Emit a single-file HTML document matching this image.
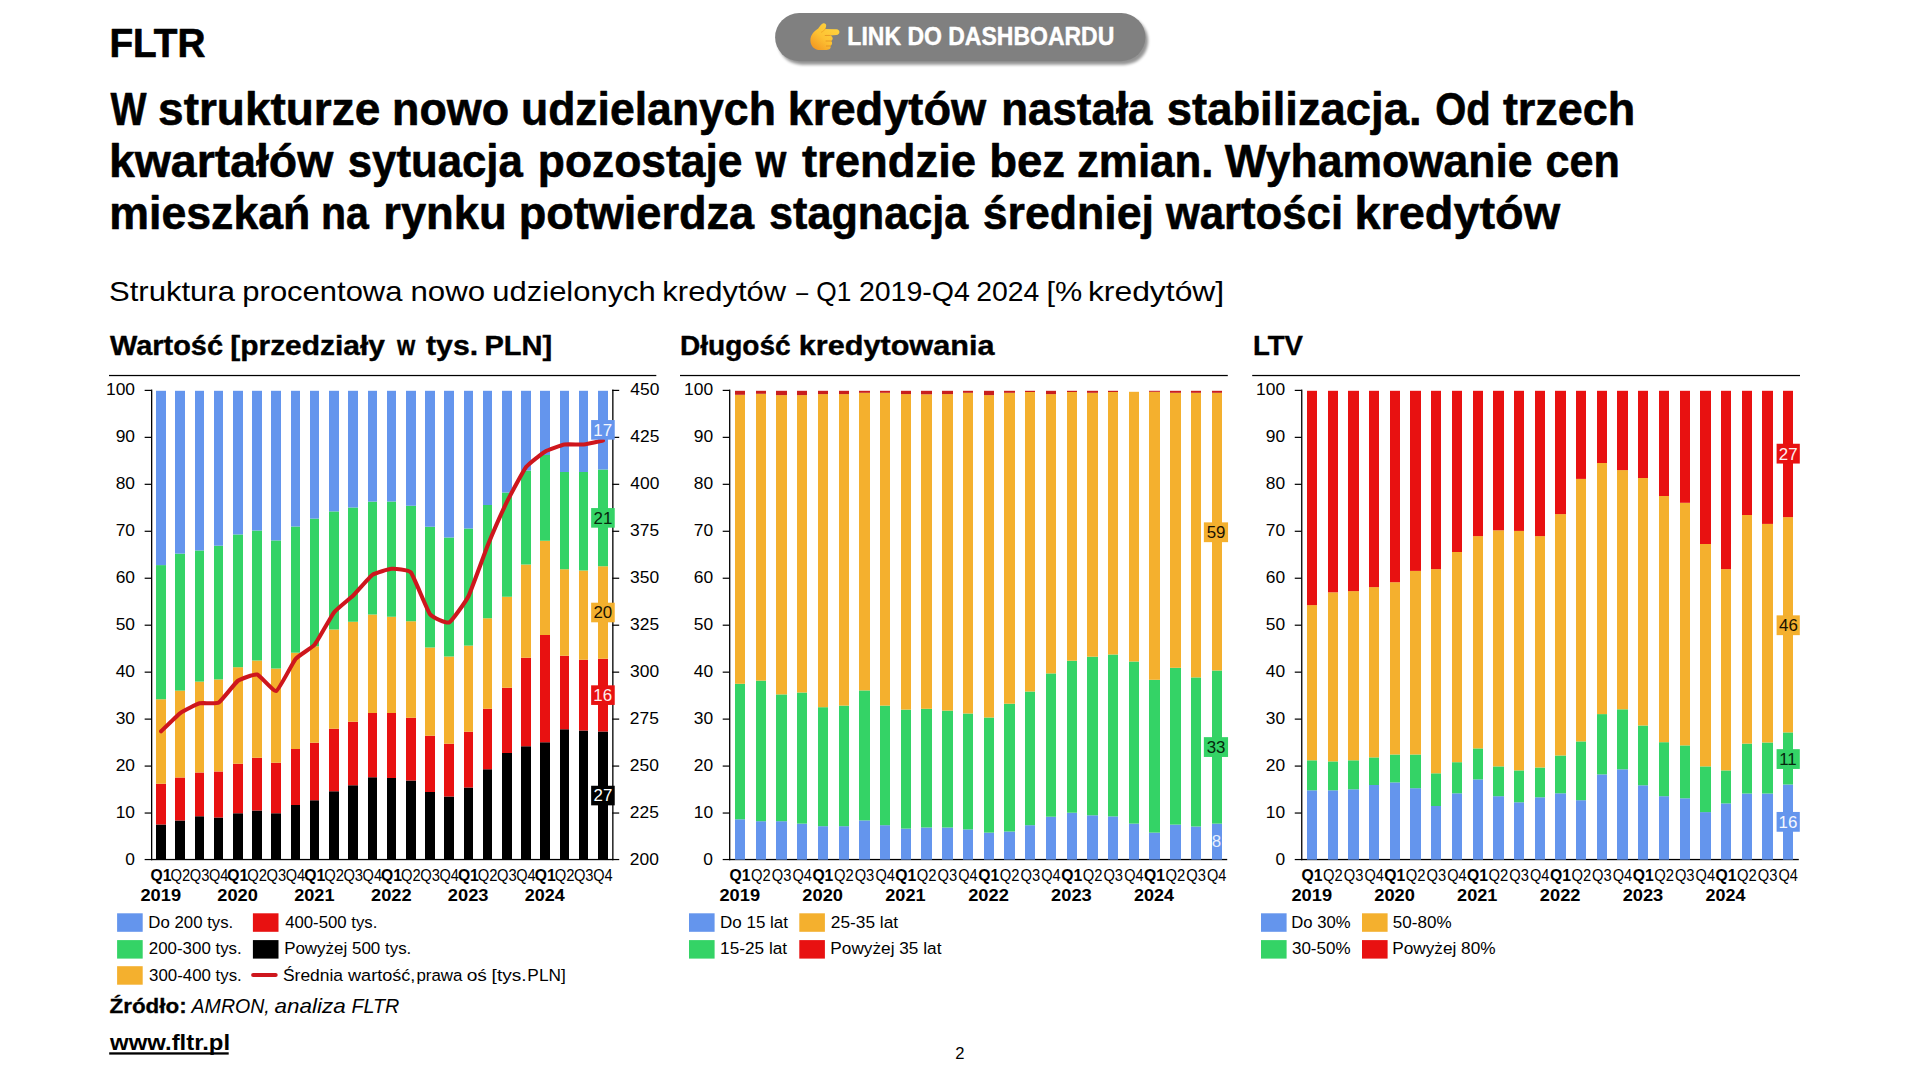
<!DOCTYPE html>
<html lang="pl"><head><meta charset="utf-8"><title>FLTR – struktura nowo udzielanych kredytów</title>
<style>html,body{margin:0;padding:0;background:#fff;}body{width:1920px;height:1080px;overflow:hidden;}svg{display:block;}text{font-family:"Liberation Sans",sans-serif;}</style>
</head><body>
<svg width="1920" height="1080" viewBox="0 0 1920 1080" shape-rendering="auto">
<rect width="1920" height="1080" fill="#fff"/>
<text x="109.43" y="56.70" font-size="40.6" font-weight="bold" fill="#000" stroke="#000" stroke-width="0.7" stroke-linejoin="round" textLength="96.02" lengthAdjust="spacingAndGlyphs">FLTR</text>
<text y="125.00" font-size="46.3" font-weight="bold" fill="#000" stroke="#000" stroke-width="0.6" stroke-linejoin="round"><tspan x="110.60" textLength="36.06" lengthAdjust="spacingAndGlyphs">W</tspan> <tspan x="158.09" textLength="222.19" lengthAdjust="spacingAndGlyphs">strukturze</tspan> <tspan x="392.09" textLength="117.08" lengthAdjust="spacingAndGlyphs">nowo</tspan> <tspan x="520.93" textLength="254.93" lengthAdjust="spacingAndGlyphs">udzielanych</tspan> <tspan x="787.73" textLength="198.46" lengthAdjust="spacingAndGlyphs">kredytów</tspan> <tspan x="1001.21" textLength="151.30" lengthAdjust="spacingAndGlyphs">nastała</tspan> <tspan x="1166.81" textLength="254.75" lengthAdjust="spacingAndGlyphs">stabilizacja.</tspan> <tspan x="1435.28" textLength="55.44" lengthAdjust="spacingAndGlyphs">Od</tspan> <tspan x="1502.91" textLength="132.37" lengthAdjust="spacingAndGlyphs">trzech</tspan></text>
<text y="177.00" font-size="46.3" font-weight="bold" fill="#000" stroke="#000" stroke-width="0.6" stroke-linejoin="round"><tspan x="108.94" textLength="224.36" lengthAdjust="spacingAndGlyphs">kwartałów</tspan> <tspan x="347.77" textLength="175.04" lengthAdjust="spacingAndGlyphs">sytuacja</tspan> <tspan x="537.82" textLength="204.71" lengthAdjust="spacingAndGlyphs">pozostaje</tspan> <tspan x="755.41" textLength="30.80" lengthAdjust="spacingAndGlyphs">w</tspan> <tspan x="802.01" textLength="173.99" lengthAdjust="spacingAndGlyphs">trendzie</tspan> <tspan x="989.25" textLength="75.85" lengthAdjust="spacingAndGlyphs">bez</tspan> <tspan x="1076.92" textLength="136.59" lengthAdjust="spacingAndGlyphs">zmian.</tspan> <tspan x="1224.70" textLength="307.81" lengthAdjust="spacingAndGlyphs">Wyhamowanie</tspan> <tspan x="1545.57" textLength="74.34" lengthAdjust="spacingAndGlyphs">cen</tspan></text>
<text y="229.40" font-size="46.3" font-weight="bold" fill="#000" stroke="#000" stroke-width="0.6" stroke-linejoin="round"><tspan x="109.31" textLength="201.05" lengthAdjust="spacingAndGlyphs">mieszkań</tspan> <tspan x="321.04" textLength="47.86" lengthAdjust="spacingAndGlyphs">na</tspan> <tspan x="383.26" textLength="123.45" lengthAdjust="spacingAndGlyphs">rynku</tspan> <tspan x="518.63" textLength="235.58" lengthAdjust="spacingAndGlyphs">potwierdza</tspan> <tspan x="769.09" textLength="199.10" lengthAdjust="spacingAndGlyphs">stagnacja</tspan> <tspan x="982.73" textLength="171.29" lengthAdjust="spacingAndGlyphs">średniej</tspan> <tspan x="1165.72" textLength="177.32" lengthAdjust="spacingAndGlyphs">wartości</tspan> <tspan x="1354.51" textLength="205.67" lengthAdjust="spacingAndGlyphs">kredytów</tspan></text>
<text y="301.00" font-size="28.5" fill="#000"><tspan x="108.94" textLength="126.06" lengthAdjust="spacingAndGlyphs">Struktura</tspan> <tspan x="242.36" textLength="160.10" lengthAdjust="spacingAndGlyphs">procentowa</tspan> <tspan x="410.44" textLength="74.68" lengthAdjust="spacingAndGlyphs">nowo</tspan> <tspan x="492.36" textLength="163.43" lengthAdjust="spacingAndGlyphs">udzielonych</tspan> <tspan x="662.36" textLength="123.79" lengthAdjust="spacingAndGlyphs">kredytów</tspan> <tspan x="796.25" textLength="11.83" lengthAdjust="spacingAndGlyphs">–</tspan> <tspan x="816.23" textLength="35.05" lengthAdjust="spacingAndGlyphs">Q1</tspan> <tspan x="858.92" textLength="110.98" lengthAdjust="spacingAndGlyphs">2019-Q4</tspan> <tspan x="976.13" textLength="63.17" lengthAdjust="spacingAndGlyphs">2024</tspan> <tspan x="1046.60" textLength="35.73" lengthAdjust="spacingAndGlyphs">[%</tspan> <tspan x="1087.90" textLength="136.32" lengthAdjust="spacingAndGlyphs">kredytów]</tspan></text>
<defs><filter id="sh" x="-10%" y="-30%" width="120%" height="170%"><feGaussianBlur stdDeviation="1.6"/></filter></defs>
<rect x="777.8" y="16.6" width="370.3" height="48.1" rx="24" fill="#000" opacity="0.42" filter="url(#sh)"/>
<rect x="775.1" y="13.1" width="370.3" height="48.1" rx="24.05" fill="#808080"/>
<text x="847.36" y="45.00" font-size="25.7" font-weight="bold" fill="#fff" stroke="#fff" stroke-width="0.45" stroke-linejoin="round" textLength="266.97" lengthAdjust="spacingAndGlyphs">LINK DO DASHBOARDU</text>
<defs><linearGradient id="hg" x1="0.9" y1="0.1" x2="0.15" y2="0.95"><stop offset="0" stop-color="#FFD43F"/><stop offset="0.55" stop-color="#FDC233"/><stop offset="1" stop-color="#F39A23"/></linearGradient></defs>
<g transform="translate(810,23)">
<path d="M8.2 5.6 C9.6 3.6 11.2 1.4 12.8 0.6 C14.6 -0.2 16.4 0.9 16.2 2.8 C16.1 3.9 15.6 5 15.2 5.9 L26.6 6.3 C28.4 6.4 29.4 7.6 29.4 9.1 C29.4 10.8 28.2 12 26.4 12.1 L20.2 12.4 C21.8 13 22.8 14.2 22.7 15.6 C22.6 16.8 22 17.6 21.2 18 C22 18.8 22.2 19.8 22 20.8 C21.8 21.9 21.2 22.6 20.4 23 C20.8 23.8 20.7 24.8 20.1 25.6 C19.3 26.7 18 27 16.4 27 L10.4 27 C4.6 27 0.4 23 0.4 17.4 C0.4 12.4 3.4 8.6 8.2 5.6 Z" fill="url(#hg)"/>
<path d="M15.2 12.5 L20.2 12.4 M16 18 L21.2 18 M16.4 23 L20.4 23" fill="none" stroke="#E08A1E" stroke-width="0.9" stroke-linecap="round" opacity="0.8"/>
<path d="M15.2 5.9 C14.4 7.4 13 8.6 11.4 9.2" fill="none" stroke="#E9971F" stroke-width="0.9" stroke-linecap="round" opacity="0.7"/>
</g>
<text y="355.00" font-size="28.4" font-weight="bold" fill="#000" stroke="#000" stroke-width="0.4" stroke-linejoin="round"><tspan x="110.00" textLength="113.05" lengthAdjust="spacingAndGlyphs">Wartość</tspan> <tspan x="230.24" textLength="154.71" lengthAdjust="spacingAndGlyphs">[przedziały</tspan> <tspan x="397.05" textLength="18.22" lengthAdjust="spacingAndGlyphs">w</tspan> <tspan x="426.05" textLength="52.06" lengthAdjust="spacingAndGlyphs">tys.</tspan> <tspan x="484.53" textLength="67.68" lengthAdjust="spacingAndGlyphs">PLN]</tspan></text>
<rect x="109" y="374.9" width="547.3" height="1.25" fill="#000"/>
<rect x="151.00" y="389.60" width="1.3" height="470.60" fill="#000"/>
<rect x="144.65" y="858.95" width="7" height="1.2" fill="#000"/>
<text x="125.34" y="865.00" font-size="16.9" fill="#000" textLength="9.68" lengthAdjust="spacingAndGlyphs">0</text>
<rect x="144.65" y="812.44" width="7" height="1.2" fill="#000"/>
<text x="115.68" y="818.00" font-size="16.9" fill="#000" textLength="19.36" lengthAdjust="spacingAndGlyphs">10</text>
<rect x="144.65" y="765.48" width="7" height="1.2" fill="#000"/>
<text x="115.68" y="771.00" font-size="16.9" fill="#000" textLength="19.36" lengthAdjust="spacingAndGlyphs">20</text>
<rect x="144.65" y="718.52" width="7" height="1.2" fill="#000"/>
<text x="115.68" y="724.00" font-size="16.9" fill="#000" textLength="19.36" lengthAdjust="spacingAndGlyphs">30</text>
<rect x="144.65" y="671.56" width="7" height="1.2" fill="#000"/>
<text x="115.68" y="677.00" font-size="16.9" fill="#000" textLength="19.36" lengthAdjust="spacingAndGlyphs">40</text>
<rect x="144.65" y="624.60" width="7" height="1.2" fill="#000"/>
<text x="115.68" y="630.00" font-size="16.9" fill="#000" textLength="19.36" lengthAdjust="spacingAndGlyphs">50</text>
<rect x="144.65" y="577.64" width="7" height="1.2" fill="#000"/>
<text x="115.68" y="583.00" font-size="16.9" fill="#000" textLength="19.36" lengthAdjust="spacingAndGlyphs">60</text>
<rect x="144.65" y="530.68" width="7" height="1.2" fill="#000"/>
<text x="115.68" y="536.00" font-size="16.9" fill="#000" textLength="19.36" lengthAdjust="spacingAndGlyphs">70</text>
<rect x="144.65" y="483.72" width="7" height="1.2" fill="#000"/>
<text x="115.68" y="489.00" font-size="16.9" fill="#000" textLength="19.36" lengthAdjust="spacingAndGlyphs">80</text>
<rect x="144.65" y="436.76" width="7" height="1.2" fill="#000"/>
<text x="115.68" y="442.00" font-size="16.9" fill="#000" textLength="19.36" lengthAdjust="spacingAndGlyphs">90</text>
<rect x="144.65" y="389.80" width="7" height="1.2" fill="#000"/>
<text x="106.03" y="395.00" font-size="16.9" fill="#000" textLength="29.04" lengthAdjust="spacingAndGlyphs">100</text>
<rect x="151.00" y="858.90" width="462.30" height="1.3" fill="#000"/>
<rect x="612.2" y="389.60" width="1.3" height="470.60" fill="#000"/>
<rect x="612.2" y="858.95" width="7" height="1.2" fill="#000"/>
<text x="629.80" y="865.00" font-size="16.9" fill="#000" textLength="29.04" lengthAdjust="spacingAndGlyphs">200</text>
<rect x="612.2" y="812.44" width="7" height="1.2" fill="#000"/>
<text x="629.80" y="818.00" font-size="16.9" fill="#000" textLength="29.04" lengthAdjust="spacingAndGlyphs">225</text>
<rect x="612.2" y="765.48" width="7" height="1.2" fill="#000"/>
<text x="629.80" y="771.00" font-size="16.9" fill="#000" textLength="29.04" lengthAdjust="spacingAndGlyphs">250</text>
<rect x="612.2" y="718.52" width="7" height="1.2" fill="#000"/>
<text x="629.80" y="724.00" font-size="16.9" fill="#000" textLength="29.04" lengthAdjust="spacingAndGlyphs">275</text>
<rect x="612.2" y="671.56" width="7" height="1.2" fill="#000"/>
<text x="630.06" y="677.00" font-size="16.9" fill="#000" textLength="29.04" lengthAdjust="spacingAndGlyphs">300</text>
<rect x="612.2" y="624.60" width="7" height="1.2" fill="#000"/>
<text x="630.06" y="630.00" font-size="16.9" fill="#000" textLength="29.04" lengthAdjust="spacingAndGlyphs">325</text>
<rect x="612.2" y="577.64" width="7" height="1.2" fill="#000"/>
<text x="630.06" y="583.00" font-size="16.9" fill="#000" textLength="29.04" lengthAdjust="spacingAndGlyphs">350</text>
<rect x="612.2" y="530.68" width="7" height="1.2" fill="#000"/>
<text x="630.06" y="536.00" font-size="16.9" fill="#000" textLength="29.04" lengthAdjust="spacingAndGlyphs">375</text>
<rect x="612.2" y="483.72" width="7" height="1.2" fill="#000"/>
<text x="630.31" y="489.00" font-size="16.9" fill="#000" textLength="29.04" lengthAdjust="spacingAndGlyphs">400</text>
<rect x="612.2" y="436.76" width="7" height="1.2" fill="#000"/>
<text x="630.31" y="442.00" font-size="16.9" fill="#000" textLength="29.04" lengthAdjust="spacingAndGlyphs">425</text>
<rect x="612.2" y="389.80" width="7" height="1.2" fill="#000"/>
<text x="630.31" y="395.00" font-size="16.9" fill="#000" textLength="29.04" lengthAdjust="spacingAndGlyphs">450</text>
<rect x="156" y="824.50" width="10" height="35.10" fill="#000000"/>
<rect x="156" y="783.75" width="10" height="40.75" fill="#E81111"/>
<rect x="156" y="699.25" width="10" height="84.50" fill="#F4B02E"/>
<rect x="156" y="565.10" width="10" height="134.15" fill="#34D366"/>
<rect x="156" y="390.80" width="10" height="174.30" fill="#6495ED"/>
<rect x="175" y="820.50" width="10" height="39.10" fill="#000000"/>
<rect x="175" y="777.50" width="10" height="43.00" fill="#E81111"/>
<rect x="175" y="690.60" width="10" height="86.90" fill="#F4B02E"/>
<rect x="175" y="553.60" width="10" height="137.00" fill="#34D366"/>
<rect x="175" y="390.80" width="10" height="162.80" fill="#6495ED"/>
<rect x="195" y="816.25" width="9" height="43.35" fill="#000000"/>
<rect x="195" y="772.50" width="9" height="43.75" fill="#E81111"/>
<rect x="195" y="681.60" width="9" height="90.90" fill="#F4B02E"/>
<rect x="195" y="550.45" width="9" height="131.15" fill="#34D366"/>
<rect x="195" y="390.80" width="9" height="159.65" fill="#6495ED"/>
<rect x="214" y="817.50" width="9" height="42.10" fill="#000000"/>
<rect x="214" y="771.50" width="9" height="46.00" fill="#E81111"/>
<rect x="214" y="679.40" width="9" height="92.10" fill="#F4B02E"/>
<rect x="214" y="545.70" width="9" height="133.70" fill="#34D366"/>
<rect x="214" y="390.80" width="9" height="154.90" fill="#6495ED"/>
<rect x="233" y="813.25" width="10" height="46.35" fill="#000000"/>
<rect x="233" y="763.75" width="10" height="49.50" fill="#E81111"/>
<rect x="233" y="667.20" width="10" height="96.55" fill="#F4B02E"/>
<rect x="233" y="534.45" width="10" height="132.75" fill="#34D366"/>
<rect x="233" y="390.80" width="10" height="143.65" fill="#6495ED"/>
<rect x="252" y="810.50" width="10" height="49.10" fill="#000000"/>
<rect x="252" y="757.75" width="10" height="52.75" fill="#E81111"/>
<rect x="252" y="660.50" width="10" height="97.25" fill="#F4B02E"/>
<rect x="252" y="530.50" width="10" height="130.00" fill="#34D366"/>
<rect x="252" y="390.80" width="10" height="139.70" fill="#6495ED"/>
<rect x="271" y="813.25" width="10" height="46.35" fill="#000000"/>
<rect x="271" y="762.75" width="10" height="50.50" fill="#E81111"/>
<rect x="271" y="668.50" width="10" height="94.25" fill="#F4B02E"/>
<rect x="271" y="540.40" width="10" height="128.10" fill="#34D366"/>
<rect x="271" y="390.80" width="10" height="149.60" fill="#6495ED"/>
<rect x="291" y="805.00" width="9" height="54.60" fill="#000000"/>
<rect x="291" y="749.00" width="9" height="56.00" fill="#E81111"/>
<rect x="291" y="652.70" width="9" height="96.30" fill="#F4B02E"/>
<rect x="291" y="526.50" width="9" height="126.20" fill="#34D366"/>
<rect x="291" y="390.80" width="9" height="135.70" fill="#6495ED"/>
<rect x="310" y="800.25" width="9" height="59.35" fill="#000000"/>
<rect x="310" y="742.75" width="9" height="57.50" fill="#E81111"/>
<rect x="310" y="646.25" width="9" height="96.50" fill="#F4B02E"/>
<rect x="310" y="518.60" width="9" height="127.65" fill="#34D366"/>
<rect x="310" y="390.80" width="9" height="127.80" fill="#6495ED"/>
<rect x="329" y="791.25" width="10" height="68.35" fill="#000000"/>
<rect x="329" y="728.75" width="10" height="62.50" fill="#E81111"/>
<rect x="329" y="629.50" width="10" height="99.25" fill="#F4B02E"/>
<rect x="329" y="511.40" width="10" height="118.10" fill="#34D366"/>
<rect x="329" y="390.80" width="10" height="120.60" fill="#6495ED"/>
<rect x="348" y="785.25" width="10" height="74.35" fill="#000000"/>
<rect x="348" y="721.75" width="10" height="63.50" fill="#E81111"/>
<rect x="348" y="621.75" width="10" height="100.00" fill="#F4B02E"/>
<rect x="348" y="507.50" width="10" height="114.25" fill="#34D366"/>
<rect x="348" y="390.80" width="10" height="116.70" fill="#6495ED"/>
<rect x="368" y="777.25" width="9" height="82.35" fill="#000000"/>
<rect x="368" y="713.00" width="9" height="64.25" fill="#E81111"/>
<rect x="368" y="614.50" width="9" height="98.50" fill="#F4B02E"/>
<rect x="368" y="501.60" width="9" height="112.90" fill="#34D366"/>
<rect x="368" y="390.80" width="9" height="110.80" fill="#6495ED"/>
<rect x="387" y="778.00" width="9" height="81.60" fill="#000000"/>
<rect x="387" y="713.00" width="9" height="65.00" fill="#E81111"/>
<rect x="387" y="616.75" width="9" height="96.25" fill="#F4B02E"/>
<rect x="387" y="501.50" width="9" height="115.25" fill="#34D366"/>
<rect x="387" y="390.80" width="9" height="110.70" fill="#6495ED"/>
<rect x="406" y="780.50" width="10" height="79.10" fill="#000000"/>
<rect x="406" y="717.75" width="10" height="62.75" fill="#E81111"/>
<rect x="406" y="621.25" width="10" height="96.50" fill="#F4B02E"/>
<rect x="406" y="505.75" width="10" height="115.50" fill="#34D366"/>
<rect x="406" y="390.80" width="10" height="114.95" fill="#6495ED"/>
<rect x="425" y="792.00" width="10" height="67.60" fill="#000000"/>
<rect x="425" y="735.75" width="10" height="56.25" fill="#E81111"/>
<rect x="425" y="647.50" width="10" height="88.25" fill="#F4B02E"/>
<rect x="425" y="526.75" width="10" height="120.75" fill="#34D366"/>
<rect x="425" y="390.80" width="10" height="135.95" fill="#6495ED"/>
<rect x="444" y="796.50" width="10" height="63.10" fill="#000000"/>
<rect x="444" y="743.75" width="10" height="52.75" fill="#E81111"/>
<rect x="444" y="656.50" width="10" height="87.25" fill="#F4B02E"/>
<rect x="444" y="537.50" width="10" height="119.00" fill="#34D366"/>
<rect x="444" y="390.80" width="10" height="146.70" fill="#6495ED"/>
<rect x="464" y="787.50" width="9" height="72.10" fill="#000000"/>
<rect x="464" y="731.75" width="9" height="55.75" fill="#E81111"/>
<rect x="464" y="645.60" width="9" height="86.15" fill="#F4B02E"/>
<rect x="464" y="528.50" width="9" height="117.10" fill="#34D366"/>
<rect x="464" y="390.80" width="9" height="137.70" fill="#6495ED"/>
<rect x="483" y="769.25" width="9" height="90.35" fill="#000000"/>
<rect x="483" y="708.75" width="9" height="60.50" fill="#E81111"/>
<rect x="483" y="618.25" width="9" height="90.50" fill="#F4B02E"/>
<rect x="483" y="505.00" width="9" height="113.25" fill="#34D366"/>
<rect x="483" y="390.80" width="9" height="114.20" fill="#6495ED"/>
<rect x="502" y="753.00" width="10" height="106.60" fill="#000000"/>
<rect x="502" y="687.75" width="10" height="65.25" fill="#E81111"/>
<rect x="502" y="596.75" width="10" height="91.00" fill="#F4B02E"/>
<rect x="502" y="492.50" width="10" height="104.25" fill="#34D366"/>
<rect x="502" y="390.80" width="10" height="101.70" fill="#6495ED"/>
<rect x="521" y="746.25" width="10" height="113.35" fill="#000000"/>
<rect x="521" y="657.75" width="10" height="88.50" fill="#E81111"/>
<rect x="521" y="564.50" width="10" height="93.25" fill="#F4B02E"/>
<rect x="521" y="470.50" width="10" height="94.00" fill="#34D366"/>
<rect x="521" y="390.80" width="10" height="79.70" fill="#6495ED"/>
<rect x="540" y="742.25" width="10" height="117.35" fill="#000000"/>
<rect x="540" y="635.00" width="10" height="107.25" fill="#E81111"/>
<rect x="540" y="540.75" width="10" height="94.25" fill="#F4B02E"/>
<rect x="540" y="455.00" width="10" height="85.75" fill="#34D366"/>
<rect x="540" y="390.80" width="10" height="64.20" fill="#6495ED"/>
<rect x="560" y="729.25" width="9" height="130.35" fill="#000000"/>
<rect x="560" y="655.75" width="9" height="73.50" fill="#E81111"/>
<rect x="560" y="569.25" width="9" height="86.50" fill="#F4B02E"/>
<rect x="560" y="472.00" width="9" height="97.25" fill="#34D366"/>
<rect x="560" y="390.80" width="9" height="81.20" fill="#6495ED"/>
<rect x="579" y="730.50" width="9" height="129.10" fill="#000000"/>
<rect x="579" y="659.75" width="9" height="70.75" fill="#E81111"/>
<rect x="579" y="570.50" width="9" height="89.25" fill="#F4B02E"/>
<rect x="579" y="472.00" width="9" height="98.50" fill="#34D366"/>
<rect x="579" y="390.80" width="9" height="81.20" fill="#6495ED"/>
<rect x="598" y="731.50" width="10" height="128.10" fill="#000000"/>
<rect x="598" y="658.75" width="10" height="72.75" fill="#E81111"/>
<rect x="598" y="566.25" width="10" height="92.50" fill="#F4B02E"/>
<rect x="598" y="469.50" width="10" height="96.75" fill="#34D366"/>
<rect x="598" y="390.80" width="10" height="78.70" fill="#6495ED"/>
<path d="M161.10 731.31 C162.39 730.09 177.75 714.95 180.31 713.08 C182.88 711.22 196.96 704.02 199.53 703.32 C202.09 702.62 216.17 704.07 218.74 702.57 C221.30 701.06 235.38 682.64 237.94 680.78 C240.51 678.91 254.59 673.90 257.15 674.58 C259.72 675.25 273.80 691.96 276.37 690.92 C278.93 689.88 293.01 662.08 295.58 658.99 C298.14 655.89 312.22 647.63 314.78 644.52 C317.35 641.42 331.43 615.67 334.00 612.40 C336.56 609.13 350.64 598.00 353.21 595.50 C355.77 592.99 369.85 576.61 372.42 574.83 C374.98 573.06 389.06 568.99 391.62 568.82 C394.19 568.66 408.27 569.36 410.84 572.39 C413.40 575.42 427.48 610.95 430.05 614.28 C432.61 617.61 446.69 623.56 449.25 622.36 C451.82 621.16 465.90 601.37 468.47 596.25 C471.03 591.13 485.11 551.82 487.68 545.53 C490.24 539.25 504.32 507.19 506.88 501.95 C509.45 496.72 523.53 470.38 526.10 467.01 C528.66 463.65 542.74 452.93 545.31 451.42 C547.87 449.92 561.95 444.94 564.52 444.47 C567.08 444.01 581.16 444.74 583.73 444.47 C586.29 444.21 601.65 440.79 602.93 440.53" fill="none" stroke="#CE161D" stroke-width="4.1" stroke-linecap="round" stroke-linejoin="round"/>
<rect x="591.13" y="420.05" width="23.6" height="19.6" fill="#6495ED"/>
<text x="593.37" y="435.75" font-size="16.9" fill="#f4f7fe" textLength="18.80" lengthAdjust="spacingAndGlyphs">17</text>
<rect x="591.13" y="508.07" width="23.6" height="19.6" fill="#34D366"/>
<text x="593.50" y="523.77" font-size="16.9" fill="#06280e" textLength="18.80" lengthAdjust="spacingAndGlyphs">21</text>
<rect x="591.13" y="602.70" width="23.6" height="19.6" fill="#F4B02E"/>
<text x="593.43" y="618.40" font-size="16.9" fill="#1a1200" textLength="18.80" lengthAdjust="spacingAndGlyphs">20</text>
<rect x="591.13" y="685.33" width="23.6" height="19.6" fill="#E81111"/>
<text x="593.31" y="701.02" font-size="16.9" fill="#fdeeee" textLength="18.80" lengthAdjust="spacingAndGlyphs">16</text>
<rect x="591.13" y="785.75" width="23.6" height="19.6" fill="#000000"/>
<text x="593.56" y="801.45" font-size="16.9" fill="#fff" textLength="18.80" lengthAdjust="spacingAndGlyphs">27</text>
<text x="150.52" y="881.30" font-size="16.9" font-weight="bold" fill="#000" textLength="20.97" lengthAdjust="spacingAndGlyphs">Q1</text>
<text x="140.48" y="900.80" font-size="16.9" font-weight="bold" fill="#000" textLength="40.62" lengthAdjust="spacingAndGlyphs">2019</text>
<text x="170.51" y="881.30" font-size="16.9" fill="#000" textLength="19.76" lengthAdjust="spacingAndGlyphs">Q2</text>
<text x="189.72" y="881.30" font-size="16.9" fill="#000" textLength="19.64" lengthAdjust="spacingAndGlyphs">Q3</text>
<text x="208.94" y="881.30" font-size="16.9" fill="#000" textLength="19.41" lengthAdjust="spacingAndGlyphs">Q4</text>
<text x="227.36" y="881.30" font-size="16.9" font-weight="bold" fill="#000" textLength="20.97" lengthAdjust="spacingAndGlyphs">Q1</text>
<text x="217.32" y="900.80" font-size="16.9" font-weight="bold" fill="#000" textLength="40.62" lengthAdjust="spacingAndGlyphs">2020</text>
<text x="247.35" y="881.30" font-size="16.9" fill="#000" textLength="19.76" lengthAdjust="spacingAndGlyphs">Q2</text>
<text x="266.56" y="881.30" font-size="16.9" fill="#000" textLength="19.64" lengthAdjust="spacingAndGlyphs">Q3</text>
<text x="285.78" y="881.30" font-size="16.9" fill="#000" textLength="19.41" lengthAdjust="spacingAndGlyphs">Q4</text>
<text x="304.20" y="881.30" font-size="16.9" font-weight="bold" fill="#000" textLength="20.97" lengthAdjust="spacingAndGlyphs">Q1</text>
<text x="294.16" y="900.80" font-size="16.9" font-weight="bold" fill="#000" textLength="40.34" lengthAdjust="spacingAndGlyphs">2021</text>
<text x="324.19" y="881.30" font-size="16.9" fill="#000" textLength="19.76" lengthAdjust="spacingAndGlyphs">Q2</text>
<text x="343.40" y="881.30" font-size="16.9" fill="#000" textLength="19.64" lengthAdjust="spacingAndGlyphs">Q3</text>
<text x="362.62" y="881.30" font-size="16.9" fill="#000" textLength="19.41" lengthAdjust="spacingAndGlyphs">Q4</text>
<text x="381.04" y="881.30" font-size="16.9" font-weight="bold" fill="#000" textLength="20.97" lengthAdjust="spacingAndGlyphs">Q1</text>
<text x="371.00" y="900.80" font-size="16.9" font-weight="bold" fill="#000" textLength="40.62" lengthAdjust="spacingAndGlyphs">2022</text>
<text x="401.03" y="881.30" font-size="16.9" fill="#000" textLength="19.76" lengthAdjust="spacingAndGlyphs">Q2</text>
<text x="420.24" y="881.30" font-size="16.9" fill="#000" textLength="19.64" lengthAdjust="spacingAndGlyphs">Q3</text>
<text x="439.46" y="881.30" font-size="16.9" fill="#000" textLength="19.41" lengthAdjust="spacingAndGlyphs">Q4</text>
<text x="457.88" y="881.30" font-size="16.9" font-weight="bold" fill="#000" textLength="20.97" lengthAdjust="spacingAndGlyphs">Q1</text>
<text x="447.84" y="900.80" font-size="16.9" font-weight="bold" fill="#000" textLength="40.62" lengthAdjust="spacingAndGlyphs">2023</text>
<text x="477.87" y="881.30" font-size="16.9" fill="#000" textLength="19.76" lengthAdjust="spacingAndGlyphs">Q2</text>
<text x="497.08" y="881.30" font-size="16.9" fill="#000" textLength="19.64" lengthAdjust="spacingAndGlyphs">Q3</text>
<text x="516.30" y="881.30" font-size="16.9" fill="#000" textLength="19.41" lengthAdjust="spacingAndGlyphs">Q4</text>
<text x="534.72" y="881.30" font-size="16.9" font-weight="bold" fill="#000" textLength="20.97" lengthAdjust="spacingAndGlyphs">Q1</text>
<text x="524.69" y="900.80" font-size="16.9" font-weight="bold" fill="#000" textLength="39.93" lengthAdjust="spacingAndGlyphs">2024</text>
<text x="554.71" y="881.30" font-size="16.9" fill="#000" textLength="19.76" lengthAdjust="spacingAndGlyphs">Q2</text>
<text x="573.92" y="881.30" font-size="16.9" fill="#000" textLength="19.64" lengthAdjust="spacingAndGlyphs">Q3</text>
<text x="593.14" y="881.30" font-size="16.9" fill="#000" textLength="19.41" lengthAdjust="spacingAndGlyphs">Q4</text>
<rect x="117.1" y="913.3" width="25.6" height="18.5" fill="#6495ED"/>
<text x="148.35" y="927.50" font-size="17.1" fill="#000" textLength="84.91" lengthAdjust="spacingAndGlyphs">Do 200 tys.</text>
<rect x="117.1" y="940.1" width="25.6" height="18.5" fill="#34D366"/>
<text x="148.84" y="954.20" font-size="17.1" fill="#000" textLength="92.92" lengthAdjust="spacingAndGlyphs">200-300 tys.</text>
<rect x="117.1" y="966.2" width="25.6" height="18.5" fill="#F4B02E"/>
<text x="149.08" y="980.60" font-size="17.1" fill="#000" textLength="92.67" lengthAdjust="spacingAndGlyphs">300-400 tys.</text>
<rect x="252.9" y="913.3" width="25.6" height="18.5" fill="#E81111"/>
<text x="285.13" y="927.50" font-size="17.1" fill="#000" textLength="92.22" lengthAdjust="spacingAndGlyphs">400-500 tys.</text>
<rect x="252.9" y="940.1" width="25.6" height="18.5" fill="#000000"/>
<text x="284.14" y="954.20" font-size="17.1" fill="#000" textLength="127.21" lengthAdjust="spacingAndGlyphs">Powyżej 500 tys.</text>
<line x1="253.1" y1="975.1" x2="275.7" y2="975.1" stroke="#CE161D" stroke-width="4.0" stroke-linecap="round"/>
<text y="980.60" font-size="17.1" fill="#000"><tspan x="282.99" textLength="60.08" lengthAdjust="spacingAndGlyphs">Średnia</tspan> <tspan x="348.00" textLength="67.38" lengthAdjust="spacingAndGlyphs">wartość,</tspan> <tspan x="416.39" textLength="46.06" lengthAdjust="spacingAndGlyphs">prawa</tspan> <tspan x="466.66" textLength="20.22" lengthAdjust="spacingAndGlyphs">oś</tspan> <tspan x="491.60" textLength="35.05" lengthAdjust="spacingAndGlyphs">[tys.</tspan> <tspan x="527.36" textLength="38.42" lengthAdjust="spacingAndGlyphs">PLN]</tspan></text>
<text y="355.00" font-size="28.4" font-weight="bold" fill="#000" stroke="#000" stroke-width="0.4" stroke-linejoin="round"><tspan x="679.95" textLength="110.72" lengthAdjust="spacingAndGlyphs">Długość</tspan> <tspan x="798.84" textLength="195.58" lengthAdjust="spacingAndGlyphs">kredytowania</tspan></text>
<rect x="680" y="374.9" width="547.8" height="1.25" fill="#000"/>
<rect x="729.05" y="389.60" width="1.3" height="470.60" fill="#000"/>
<rect x="722.70" y="858.95" width="7" height="1.2" fill="#000"/>
<text x="703.39" y="865.00" font-size="16.9" fill="#000" textLength="9.68" lengthAdjust="spacingAndGlyphs">0</text>
<rect x="722.70" y="812.44" width="7" height="1.2" fill="#000"/>
<text x="693.73" y="818.00" font-size="16.9" fill="#000" textLength="19.36" lengthAdjust="spacingAndGlyphs">10</text>
<rect x="722.70" y="765.48" width="7" height="1.2" fill="#000"/>
<text x="693.73" y="771.00" font-size="16.9" fill="#000" textLength="19.36" lengthAdjust="spacingAndGlyphs">20</text>
<rect x="722.70" y="718.52" width="7" height="1.2" fill="#000"/>
<text x="693.73" y="724.00" font-size="16.9" fill="#000" textLength="19.36" lengthAdjust="spacingAndGlyphs">30</text>
<rect x="722.70" y="671.56" width="7" height="1.2" fill="#000"/>
<text x="693.73" y="677.00" font-size="16.9" fill="#000" textLength="19.36" lengthAdjust="spacingAndGlyphs">40</text>
<rect x="722.70" y="624.60" width="7" height="1.2" fill="#000"/>
<text x="693.73" y="630.00" font-size="16.9" fill="#000" textLength="19.36" lengthAdjust="spacingAndGlyphs">50</text>
<rect x="722.70" y="577.64" width="7" height="1.2" fill="#000"/>
<text x="693.73" y="583.00" font-size="16.9" fill="#000" textLength="19.36" lengthAdjust="spacingAndGlyphs">60</text>
<rect x="722.70" y="530.68" width="7" height="1.2" fill="#000"/>
<text x="693.73" y="536.00" font-size="16.9" fill="#000" textLength="19.36" lengthAdjust="spacingAndGlyphs">70</text>
<rect x="722.70" y="483.72" width="7" height="1.2" fill="#000"/>
<text x="693.73" y="489.00" font-size="16.9" fill="#000" textLength="19.36" lengthAdjust="spacingAndGlyphs">80</text>
<rect x="722.70" y="436.76" width="7" height="1.2" fill="#000"/>
<text x="693.73" y="442.00" font-size="16.9" fill="#000" textLength="19.36" lengthAdjust="spacingAndGlyphs">90</text>
<rect x="722.70" y="389.80" width="7" height="1.2" fill="#000"/>
<text x="684.08" y="395.00" font-size="16.9" fill="#000" textLength="29.04" lengthAdjust="spacingAndGlyphs">100</text>
<rect x="729.05" y="858.90" width="498.15" height="1.3" fill="#000"/>
<rect x="735" y="819.30" width="10" height="40.30" fill="#6495ED"/>
<rect x="735" y="683.80" width="10" height="135.50" fill="#34D366"/>
<rect x="735" y="394.80" width="10" height="289.00" fill="#F4B02E"/>
<rect x="735" y="390.80" width="10" height="4.00" fill="#C81E1E"/>
<rect x="756" y="821.20" width="10" height="38.40" fill="#6495ED"/>
<rect x="756" y="680.60" width="10" height="140.60" fill="#34D366"/>
<rect x="756" y="393.80" width="10" height="286.80" fill="#F4B02E"/>
<rect x="756" y="390.80" width="10" height="3.00" fill="#C81E1E"/>
<rect x="776" y="821.20" width="11" height="38.40" fill="#6495ED"/>
<rect x="776" y="694.40" width="11" height="126.80" fill="#34D366"/>
<rect x="776" y="395.10" width="11" height="299.30" fill="#F4B02E"/>
<rect x="776" y="390.80" width="11" height="4.30" fill="#C81E1E"/>
<rect x="797" y="823.60" width="10" height="36.00" fill="#6495ED"/>
<rect x="797" y="692.50" width="10" height="131.10" fill="#34D366"/>
<rect x="797" y="395.10" width="10" height="297.40" fill="#F4B02E"/>
<rect x="797" y="390.80" width="10" height="4.30" fill="#C81E1E"/>
<rect x="818" y="826.20" width="10" height="33.40" fill="#6495ED"/>
<rect x="818" y="707.20" width="10" height="119.00" fill="#34D366"/>
<rect x="818" y="394.10" width="10" height="313.10" fill="#F4B02E"/>
<rect x="818" y="390.80" width="10" height="3.30" fill="#C81E1E"/>
<rect x="839" y="826.20" width="10" height="33.40" fill="#6495ED"/>
<rect x="839" y="705.60" width="10" height="120.60" fill="#34D366"/>
<rect x="839" y="394.10" width="10" height="311.50" fill="#F4B02E"/>
<rect x="839" y="390.80" width="10" height="3.30" fill="#C81E1E"/>
<rect x="859" y="820.40" width="11" height="39.20" fill="#6495ED"/>
<rect x="859" y="690.40" width="11" height="130.00" fill="#34D366"/>
<rect x="859" y="392.80" width="11" height="297.60" fill="#F4B02E"/>
<rect x="859" y="390.80" width="11" height="2.00" fill="#C81E1E"/>
<rect x="880" y="825.20" width="10" height="34.40" fill="#6495ED"/>
<rect x="880" y="705.60" width="10" height="119.60" fill="#34D366"/>
<rect x="880" y="392.80" width="10" height="312.80" fill="#F4B02E"/>
<rect x="880" y="390.80" width="10" height="2.00" fill="#C81E1E"/>
<rect x="901" y="828.60" width="10" height="31.00" fill="#6495ED"/>
<rect x="901" y="709.60" width="10" height="119.00" fill="#34D366"/>
<rect x="901" y="394.10" width="10" height="315.50" fill="#F4B02E"/>
<rect x="901" y="390.80" width="10" height="3.30" fill="#C81E1E"/>
<rect x="921" y="827.50" width="11" height="32.10" fill="#6495ED"/>
<rect x="921" y="708.80" width="11" height="118.70" fill="#34D366"/>
<rect x="921" y="394.30" width="11" height="314.50" fill="#F4B02E"/>
<rect x="921" y="390.80" width="11" height="3.50" fill="#C81E1E"/>
<rect x="942" y="827.50" width="11" height="32.10" fill="#6495ED"/>
<rect x="942" y="710.60" width="11" height="116.90" fill="#34D366"/>
<rect x="942" y="394.10" width="11" height="316.50" fill="#F4B02E"/>
<rect x="942" y="390.80" width="11" height="3.30" fill="#C81E1E"/>
<rect x="963" y="829.40" width="10" height="30.20" fill="#6495ED"/>
<rect x="963" y="713.50" width="10" height="115.90" fill="#34D366"/>
<rect x="963" y="392.80" width="10" height="320.70" fill="#F4B02E"/>
<rect x="963" y="390.80" width="10" height="2.00" fill="#C81E1E"/>
<rect x="984" y="832.60" width="10" height="27.00" fill="#6495ED"/>
<rect x="984" y="717.50" width="10" height="115.10" fill="#34D366"/>
<rect x="984" y="395.10" width="10" height="322.40" fill="#F4B02E"/>
<rect x="984" y="390.80" width="10" height="4.30" fill="#C81E1E"/>
<rect x="1004" y="831.50" width="11" height="28.10" fill="#6495ED"/>
<rect x="1004" y="703.70" width="11" height="127.80" fill="#34D366"/>
<rect x="1004" y="392.80" width="11" height="310.90" fill="#F4B02E"/>
<rect x="1004" y="390.80" width="11" height="2.00" fill="#C81E1E"/>
<rect x="1025" y="825.20" width="10" height="34.40" fill="#6495ED"/>
<rect x="1025" y="691.50" width="10" height="133.70" fill="#34D366"/>
<rect x="1025" y="392.00" width="10" height="299.50" fill="#F4B02E"/>
<rect x="1025" y="390.80" width="10" height="1.20" fill="#C81E1E"/>
<rect x="1046" y="816.70" width="10" height="42.90" fill="#6495ED"/>
<rect x="1046" y="673.40" width="10" height="143.30" fill="#34D366"/>
<rect x="1046" y="394.10" width="10" height="279.30" fill="#F4B02E"/>
<rect x="1046" y="390.80" width="10" height="3.30" fill="#C81E1E"/>
<rect x="1067" y="812.70" width="10" height="46.90" fill="#6495ED"/>
<rect x="1067" y="660.70" width="10" height="152.00" fill="#34D366"/>
<rect x="1067" y="392.00" width="10" height="268.70" fill="#F4B02E"/>
<rect x="1067" y="390.80" width="10" height="1.20" fill="#C81E1E"/>
<rect x="1087" y="815.30" width="11" height="44.30" fill="#6495ED"/>
<rect x="1087" y="656.70" width="11" height="158.60" fill="#34D366"/>
<rect x="1087" y="392.80" width="11" height="263.90" fill="#F4B02E"/>
<rect x="1087" y="390.80" width="11" height="2.00" fill="#C81E1E"/>
<rect x="1108" y="816.40" width="10" height="43.20" fill="#6495ED"/>
<rect x="1108" y="654.50" width="10" height="161.90" fill="#34D366"/>
<rect x="1108" y="392.00" width="10" height="262.50" fill="#F4B02E"/>
<rect x="1108" y="390.80" width="10" height="1.20" fill="#C81E1E"/>
<rect x="1129" y="823.60" width="10" height="36.00" fill="#6495ED"/>
<rect x="1129" y="661.50" width="10" height="162.10" fill="#34D366"/>
<rect x="1129" y="391.80" width="10" height="269.70" fill="#F4B02E"/>
<rect x="1149" y="832.60" width="11" height="27.00" fill="#6495ED"/>
<rect x="1149" y="679.80" width="11" height="152.80" fill="#34D366"/>
<rect x="1149" y="391.80" width="11" height="288.00" fill="#F4B02E"/>
<rect x="1149" y="390.80" width="11" height="1.00" fill="#C81E1E"/>
<rect x="1170" y="824.60" width="11" height="35.00" fill="#6495ED"/>
<rect x="1170" y="667.80" width="11" height="156.80" fill="#34D366"/>
<rect x="1170" y="392.80" width="11" height="275.00" fill="#F4B02E"/>
<rect x="1170" y="390.80" width="11" height="2.00" fill="#C81E1E"/>
<rect x="1191" y="826.50" width="10" height="33.10" fill="#6495ED"/>
<rect x="1191" y="677.40" width="10" height="149.10" fill="#34D366"/>
<rect x="1191" y="392.80" width="10" height="284.60" fill="#F4B02E"/>
<rect x="1191" y="390.80" width="10" height="2.00" fill="#C81E1E"/>
<rect x="1212" y="823.60" width="10" height="36.00" fill="#6495ED"/>
<rect x="1212" y="670.50" width="10" height="153.10" fill="#34D366"/>
<rect x="1212" y="392.80" width="10" height="277.70" fill="#F4B02E"/>
<rect x="1212" y="390.80" width="10" height="2.00" fill="#C81E1E"/>
<rect x="1203.86" y="522.35" width="24.2" height="19.8" fill="#F4B02E"/>
<text x="1206.64" y="538.15" font-size="16.9" fill="#1a1200" textLength="18.80" lengthAdjust="spacingAndGlyphs">59</text>
<rect x="1203.86" y="737.15" width="24.2" height="19.8" fill="#34D366"/>
<text x="1206.64" y="752.95" font-size="16.9" fill="#06280e" textLength="18.80" lengthAdjust="spacingAndGlyphs">33</text>
<text x="1211.87" y="847.00" font-size="16.9" fill="#e6eefc" textLength="9.40" lengthAdjust="spacingAndGlyphs">8</text>
<text x="729.48" y="881.30" font-size="16.9" font-weight="bold" fill="#000" textLength="20.97" lengthAdjust="spacingAndGlyphs">Q1</text>
<text x="719.44" y="900.80" font-size="16.9" font-weight="bold" fill="#000" textLength="40.62" lengthAdjust="spacingAndGlyphs">2019</text>
<text x="750.99" y="881.30" font-size="16.9" fill="#000" textLength="19.76" lengthAdjust="spacingAndGlyphs">Q2</text>
<text x="771.72" y="881.30" font-size="16.9" fill="#000" textLength="19.64" lengthAdjust="spacingAndGlyphs">Q3</text>
<text x="792.46" y="881.30" font-size="16.9" fill="#000" textLength="19.41" lengthAdjust="spacingAndGlyphs">Q4</text>
<text x="812.40" y="881.30" font-size="16.9" font-weight="bold" fill="#000" textLength="20.97" lengthAdjust="spacingAndGlyphs">Q1</text>
<text x="802.36" y="900.80" font-size="16.9" font-weight="bold" fill="#000" textLength="40.62" lengthAdjust="spacingAndGlyphs">2020</text>
<text x="833.91" y="881.30" font-size="16.9" fill="#000" textLength="19.76" lengthAdjust="spacingAndGlyphs">Q2</text>
<text x="854.64" y="881.30" font-size="16.9" fill="#000" textLength="19.64" lengthAdjust="spacingAndGlyphs">Q3</text>
<text x="875.38" y="881.30" font-size="16.9" fill="#000" textLength="19.41" lengthAdjust="spacingAndGlyphs">Q4</text>
<text x="895.32" y="881.30" font-size="16.9" font-weight="bold" fill="#000" textLength="20.97" lengthAdjust="spacingAndGlyphs">Q1</text>
<text x="885.28" y="900.80" font-size="16.9" font-weight="bold" fill="#000" textLength="40.34" lengthAdjust="spacingAndGlyphs">2021</text>
<text x="916.83" y="881.30" font-size="16.9" fill="#000" textLength="19.76" lengthAdjust="spacingAndGlyphs">Q2</text>
<text x="937.56" y="881.30" font-size="16.9" fill="#000" textLength="19.64" lengthAdjust="spacingAndGlyphs">Q3</text>
<text x="958.30" y="881.30" font-size="16.9" fill="#000" textLength="19.41" lengthAdjust="spacingAndGlyphs">Q4</text>
<text x="978.24" y="881.30" font-size="16.9" font-weight="bold" fill="#000" textLength="20.97" lengthAdjust="spacingAndGlyphs">Q1</text>
<text x="968.20" y="900.80" font-size="16.9" font-weight="bold" fill="#000" textLength="40.62" lengthAdjust="spacingAndGlyphs">2022</text>
<text x="999.75" y="881.30" font-size="16.9" fill="#000" textLength="19.76" lengthAdjust="spacingAndGlyphs">Q2</text>
<text x="1020.48" y="881.30" font-size="16.9" fill="#000" textLength="19.64" lengthAdjust="spacingAndGlyphs">Q3</text>
<text x="1041.22" y="881.30" font-size="16.9" fill="#000" textLength="19.41" lengthAdjust="spacingAndGlyphs">Q4</text>
<text x="1061.16" y="881.30" font-size="16.9" font-weight="bold" fill="#000" textLength="20.97" lengthAdjust="spacingAndGlyphs">Q1</text>
<text x="1051.12" y="900.80" font-size="16.9" font-weight="bold" fill="#000" textLength="40.62" lengthAdjust="spacingAndGlyphs">2023</text>
<text x="1082.67" y="881.30" font-size="16.9" fill="#000" textLength="19.76" lengthAdjust="spacingAndGlyphs">Q2</text>
<text x="1103.40" y="881.30" font-size="16.9" fill="#000" textLength="19.64" lengthAdjust="spacingAndGlyphs">Q3</text>
<text x="1124.14" y="881.30" font-size="16.9" fill="#000" textLength="19.41" lengthAdjust="spacingAndGlyphs">Q4</text>
<text x="1144.08" y="881.30" font-size="16.9" font-weight="bold" fill="#000" textLength="20.97" lengthAdjust="spacingAndGlyphs">Q1</text>
<text x="1134.05" y="900.80" font-size="16.9" font-weight="bold" fill="#000" textLength="39.93" lengthAdjust="spacingAndGlyphs">2024</text>
<text x="1165.59" y="881.30" font-size="16.9" fill="#000" textLength="19.76" lengthAdjust="spacingAndGlyphs">Q2</text>
<text x="1186.32" y="881.30" font-size="16.9" fill="#000" textLength="19.64" lengthAdjust="spacingAndGlyphs">Q3</text>
<text x="1207.06" y="881.30" font-size="16.9" fill="#000" textLength="19.41" lengthAdjust="spacingAndGlyphs">Q4</text>
<rect x="689" y="913.3" width="25.6" height="18.5" fill="#6495ED"/>
<text x="720.03" y="927.50" font-size="17.1" fill="#000" textLength="68.03" lengthAdjust="spacingAndGlyphs">Do 15 lat</text>
<rect x="689" y="940.1" width="25.6" height="18.5" fill="#34D366"/>
<text x="720.14" y="954.20" font-size="17.1" fill="#000" textLength="67.03" lengthAdjust="spacingAndGlyphs">15-25 lat</text>
<rect x="799.3" y="913.3" width="25.6" height="18.5" fill="#F4B02E"/>
<text x="830.81" y="927.50" font-size="17.1" fill="#000" textLength="67.35" lengthAdjust="spacingAndGlyphs">25-35 lat</text>
<rect x="799.3" y="940.1" width="25.6" height="18.5" fill="#E81111"/>
<text x="830.31" y="954.20" font-size="17.1" fill="#000" textLength="111.12" lengthAdjust="spacingAndGlyphs">Powyżej 35 lat</text>
<text x="1252.88" y="355.00" font-size="28.4" font-weight="bold" fill="#000" stroke="#000" stroke-width="0.4" stroke-linejoin="round" textLength="50.07" lengthAdjust="spacingAndGlyphs">LTV</text>
<rect x="1252.2" y="374.9" width="547.8" height="1.25" fill="#000"/>
<rect x="1301.10" y="389.60" width="1.3" height="470.60" fill="#000"/>
<rect x="1294.75" y="858.95" width="7" height="1.2" fill="#000"/>
<text x="1275.44" y="865.00" font-size="16.9" fill="#000" textLength="9.68" lengthAdjust="spacingAndGlyphs">0</text>
<rect x="1294.75" y="812.44" width="7" height="1.2" fill="#000"/>
<text x="1265.78" y="818.00" font-size="16.9" fill="#000" textLength="19.36" lengthAdjust="spacingAndGlyphs">10</text>
<rect x="1294.75" y="765.48" width="7" height="1.2" fill="#000"/>
<text x="1265.78" y="771.00" font-size="16.9" fill="#000" textLength="19.36" lengthAdjust="spacingAndGlyphs">20</text>
<rect x="1294.75" y="718.52" width="7" height="1.2" fill="#000"/>
<text x="1265.78" y="724.00" font-size="16.9" fill="#000" textLength="19.36" lengthAdjust="spacingAndGlyphs">30</text>
<rect x="1294.75" y="671.56" width="7" height="1.2" fill="#000"/>
<text x="1265.78" y="677.00" font-size="16.9" fill="#000" textLength="19.36" lengthAdjust="spacingAndGlyphs">40</text>
<rect x="1294.75" y="624.60" width="7" height="1.2" fill="#000"/>
<text x="1265.78" y="630.00" font-size="16.9" fill="#000" textLength="19.36" lengthAdjust="spacingAndGlyphs">50</text>
<rect x="1294.75" y="577.64" width="7" height="1.2" fill="#000"/>
<text x="1265.78" y="583.00" font-size="16.9" fill="#000" textLength="19.36" lengthAdjust="spacingAndGlyphs">60</text>
<rect x="1294.75" y="530.68" width="7" height="1.2" fill="#000"/>
<text x="1265.78" y="536.00" font-size="16.9" fill="#000" textLength="19.36" lengthAdjust="spacingAndGlyphs">70</text>
<rect x="1294.75" y="483.72" width="7" height="1.2" fill="#000"/>
<text x="1265.78" y="489.00" font-size="16.9" fill="#000" textLength="19.36" lengthAdjust="spacingAndGlyphs">80</text>
<rect x="1294.75" y="436.76" width="7" height="1.2" fill="#000"/>
<text x="1265.78" y="442.00" font-size="16.9" fill="#000" textLength="19.36" lengthAdjust="spacingAndGlyphs">90</text>
<rect x="1294.75" y="389.80" width="7" height="1.2" fill="#000"/>
<text x="1256.13" y="395.00" font-size="16.9" fill="#000" textLength="29.04" lengthAdjust="spacingAndGlyphs">100</text>
<rect x="1301.10" y="858.90" width="497.70" height="1.3" fill="#000"/>
<rect x="1307" y="790.30" width="10" height="69.30" fill="#6495ED"/>
<rect x="1307" y="760.30" width="10" height="30.00" fill="#34D366"/>
<rect x="1307" y="605.10" width="10" height="155.20" fill="#F4B02E"/>
<rect x="1307" y="390.80" width="10" height="214.30" fill="#E81111"/>
<rect x="1328" y="790.30" width="10" height="69.30" fill="#6495ED"/>
<rect x="1328" y="761.40" width="10" height="28.90" fill="#34D366"/>
<rect x="1328" y="592.30" width="10" height="169.10" fill="#F4B02E"/>
<rect x="1328" y="390.80" width="10" height="201.50" fill="#E81111"/>
<rect x="1348" y="789.30" width="11" height="70.30" fill="#6495ED"/>
<rect x="1348" y="760.30" width="11" height="29.00" fill="#34D366"/>
<rect x="1348" y="591.10" width="11" height="169.20" fill="#F4B02E"/>
<rect x="1348" y="390.80" width="11" height="200.30" fill="#E81111"/>
<rect x="1369" y="785.00" width="10" height="74.60" fill="#6495ED"/>
<rect x="1369" y="757.40" width="10" height="27.60" fill="#34D366"/>
<rect x="1369" y="587.10" width="10" height="170.30" fill="#F4B02E"/>
<rect x="1369" y="390.80" width="10" height="196.30" fill="#E81111"/>
<rect x="1390" y="782.40" width="10" height="77.20" fill="#6495ED"/>
<rect x="1390" y="754.50" width="10" height="27.90" fill="#34D366"/>
<rect x="1390" y="582.20" width="10" height="172.30" fill="#F4B02E"/>
<rect x="1390" y="390.80" width="10" height="191.40" fill="#E81111"/>
<rect x="1410" y="788.20" width="11" height="71.40" fill="#6495ED"/>
<rect x="1410" y="754.50" width="11" height="33.70" fill="#34D366"/>
<rect x="1410" y="570.90" width="11" height="183.60" fill="#F4B02E"/>
<rect x="1410" y="390.80" width="11" height="180.10" fill="#E81111"/>
<rect x="1431" y="806.00" width="10" height="53.60" fill="#6495ED"/>
<rect x="1431" y="773.30" width="10" height="32.70" fill="#34D366"/>
<rect x="1431" y="569.10" width="10" height="204.20" fill="#F4B02E"/>
<rect x="1431" y="390.80" width="10" height="178.30" fill="#E81111"/>
<rect x="1452" y="793.30" width="10" height="66.30" fill="#6495ED"/>
<rect x="1452" y="762.20" width="10" height="31.10" fill="#34D366"/>
<rect x="1452" y="552.00" width="10" height="210.20" fill="#F4B02E"/>
<rect x="1452" y="390.80" width="10" height="161.20" fill="#E81111"/>
<rect x="1473" y="779.40" width="10" height="80.20" fill="#6495ED"/>
<rect x="1473" y="748.40" width="10" height="31.00" fill="#34D366"/>
<rect x="1473" y="536.10" width="10" height="212.30" fill="#F4B02E"/>
<rect x="1473" y="390.80" width="10" height="145.30" fill="#E81111"/>
<rect x="1493" y="796.20" width="11" height="63.40" fill="#6495ED"/>
<rect x="1493" y="766.40" width="11" height="29.80" fill="#34D366"/>
<rect x="1493" y="530.30" width="11" height="236.10" fill="#F4B02E"/>
<rect x="1493" y="390.80" width="11" height="139.50" fill="#E81111"/>
<rect x="1514" y="802.30" width="10" height="57.30" fill="#6495ED"/>
<rect x="1514" y="770.40" width="10" height="31.90" fill="#34D366"/>
<rect x="1514" y="530.90" width="10" height="239.50" fill="#F4B02E"/>
<rect x="1514" y="390.80" width="10" height="140.10" fill="#E81111"/>
<rect x="1535" y="797.30" width="10" height="62.30" fill="#6495ED"/>
<rect x="1535" y="767.50" width="10" height="29.80" fill="#34D366"/>
<rect x="1535" y="536.10" width="10" height="231.40" fill="#F4B02E"/>
<rect x="1535" y="390.80" width="10" height="145.30" fill="#E81111"/>
<rect x="1555" y="793.30" width="11" height="66.30" fill="#6495ED"/>
<rect x="1555" y="755.50" width="11" height="37.80" fill="#34D366"/>
<rect x="1555" y="514.10" width="11" height="241.40" fill="#F4B02E"/>
<rect x="1555" y="390.80" width="11" height="123.30" fill="#E81111"/>
<rect x="1576" y="800.20" width="10" height="59.40" fill="#6495ED"/>
<rect x="1576" y="741.40" width="10" height="58.80" fill="#34D366"/>
<rect x="1576" y="478.90" width="10" height="262.50" fill="#F4B02E"/>
<rect x="1576" y="390.80" width="10" height="88.10" fill="#E81111"/>
<rect x="1597" y="774.40" width="10" height="85.20" fill="#6495ED"/>
<rect x="1597" y="714.10" width="10" height="60.30" fill="#34D366"/>
<rect x="1597" y="463.00" width="10" height="251.10" fill="#F4B02E"/>
<rect x="1597" y="390.80" width="10" height="72.20" fill="#E81111"/>
<rect x="1617" y="769.30" width="11" height="90.30" fill="#6495ED"/>
<rect x="1617" y="709.30" width="11" height="60.00" fill="#34D366"/>
<rect x="1617" y="470.10" width="11" height="239.20" fill="#F4B02E"/>
<rect x="1617" y="390.80" width="11" height="79.30" fill="#E81111"/>
<rect x="1638" y="785.30" width="10" height="74.30" fill="#6495ED"/>
<rect x="1638" y="725.50" width="10" height="59.80" fill="#34D366"/>
<rect x="1638" y="478.00" width="10" height="247.50" fill="#F4B02E"/>
<rect x="1638" y="390.80" width="10" height="87.20" fill="#E81111"/>
<rect x="1659" y="796.20" width="10" height="63.40" fill="#6495ED"/>
<rect x="1659" y="742.20" width="10" height="54.00" fill="#34D366"/>
<rect x="1659" y="496.00" width="10" height="246.20" fill="#F4B02E"/>
<rect x="1659" y="390.80" width="10" height="105.20" fill="#E81111"/>
<rect x="1680" y="798.30" width="10" height="61.30" fill="#6495ED"/>
<rect x="1680" y="745.40" width="10" height="52.90" fill="#34D366"/>
<rect x="1680" y="502.80" width="10" height="242.60" fill="#F4B02E"/>
<rect x="1680" y="390.80" width="10" height="112.00" fill="#E81111"/>
<rect x="1700" y="812.10" width="11" height="47.50" fill="#6495ED"/>
<rect x="1700" y="766.40" width="11" height="45.70" fill="#34D366"/>
<rect x="1700" y="544.00" width="11" height="222.40" fill="#F4B02E"/>
<rect x="1700" y="390.80" width="11" height="153.20" fill="#E81111"/>
<rect x="1721" y="803.40" width="10" height="56.20" fill="#6495ED"/>
<rect x="1721" y="770.40" width="10" height="33.00" fill="#34D366"/>
<rect x="1721" y="569.10" width="10" height="201.30" fill="#F4B02E"/>
<rect x="1721" y="390.80" width="10" height="178.30" fill="#E81111"/>
<rect x="1742" y="793.50" width="10" height="66.10" fill="#6495ED"/>
<rect x="1742" y="743.60" width="10" height="49.90" fill="#34D366"/>
<rect x="1742" y="515.00" width="10" height="228.60" fill="#F4B02E"/>
<rect x="1742" y="390.80" width="10" height="124.20" fill="#E81111"/>
<rect x="1762" y="793.50" width="11" height="66.10" fill="#6495ED"/>
<rect x="1762" y="742.50" width="11" height="51.00" fill="#34D366"/>
<rect x="1762" y="523.90" width="11" height="218.60" fill="#F4B02E"/>
<rect x="1762" y="390.80" width="11" height="133.10" fill="#E81111"/>
<rect x="1783" y="784.50" width="10" height="75.10" fill="#6495ED"/>
<rect x="1783" y="732.40" width="10" height="52.10" fill="#34D366"/>
<rect x="1783" y="517.10" width="10" height="215.30" fill="#F4B02E"/>
<rect x="1783" y="390.80" width="10" height="126.30" fill="#E81111"/>
<rect x="1776.60" y="443.75" width="23.2" height="19.8" fill="#E81111"/>
<text x="1778.83" y="459.55" font-size="16.9" fill="#fdeeee" textLength="18.80" lengthAdjust="spacingAndGlyphs">27</text>
<rect x="1776.60" y="615.35" width="23.2" height="19.8" fill="#F4B02E"/>
<text x="1779.01" y="631.15" font-size="16.9" fill="#1a1200" textLength="18.80" lengthAdjust="spacingAndGlyphs">46</text>
<rect x="1776.60" y="749.15" width="23.2" height="19.8" fill="#34D366"/>
<text x="1779.20" y="764.95" font-size="16.9" fill="#06280e" textLength="17.54" lengthAdjust="spacingAndGlyphs">11</text>
<rect x="1776.60" y="811.95" width="23.2" height="19.8" fill="#6495ED"/>
<text x="1778.58" y="827.75" font-size="16.9" fill="#f4f7fe" textLength="18.80" lengthAdjust="spacingAndGlyphs">16</text>
<text x="1301.52" y="881.30" font-size="16.9" font-weight="bold" fill="#000" textLength="20.97" lengthAdjust="spacingAndGlyphs">Q1</text>
<text x="1291.47" y="900.80" font-size="16.9" font-weight="bold" fill="#000" textLength="40.62" lengthAdjust="spacingAndGlyphs">2019</text>
<text x="1322.99" y="881.30" font-size="16.9" fill="#000" textLength="19.76" lengthAdjust="spacingAndGlyphs">Q2</text>
<text x="1343.70" y="881.30" font-size="16.9" fill="#000" textLength="19.64" lengthAdjust="spacingAndGlyphs">Q3</text>
<text x="1364.40" y="881.30" font-size="16.9" fill="#000" textLength="19.41" lengthAdjust="spacingAndGlyphs">Q4</text>
<text x="1384.32" y="881.30" font-size="16.9" font-weight="bold" fill="#000" textLength="20.97" lengthAdjust="spacingAndGlyphs">Q1</text>
<text x="1374.27" y="900.80" font-size="16.9" font-weight="bold" fill="#000" textLength="40.62" lengthAdjust="spacingAndGlyphs">2020</text>
<text x="1405.79" y="881.30" font-size="16.9" fill="#000" textLength="19.76" lengthAdjust="spacingAndGlyphs">Q2</text>
<text x="1426.50" y="881.30" font-size="16.9" fill="#000" textLength="19.64" lengthAdjust="spacingAndGlyphs">Q3</text>
<text x="1447.20" y="881.30" font-size="16.9" fill="#000" textLength="19.41" lengthAdjust="spacingAndGlyphs">Q4</text>
<text x="1467.12" y="881.30" font-size="16.9" font-weight="bold" fill="#000" textLength="20.97" lengthAdjust="spacingAndGlyphs">Q1</text>
<text x="1457.08" y="900.80" font-size="16.9" font-weight="bold" fill="#000" textLength="40.34" lengthAdjust="spacingAndGlyphs">2021</text>
<text x="1488.59" y="881.30" font-size="16.9" fill="#000" textLength="19.76" lengthAdjust="spacingAndGlyphs">Q2</text>
<text x="1509.30" y="881.30" font-size="16.9" fill="#000" textLength="19.64" lengthAdjust="spacingAndGlyphs">Q3</text>
<text x="1530.00" y="881.30" font-size="16.9" fill="#000" textLength="19.41" lengthAdjust="spacingAndGlyphs">Q4</text>
<text x="1549.92" y="881.30" font-size="16.9" font-weight="bold" fill="#000" textLength="20.97" lengthAdjust="spacingAndGlyphs">Q1</text>
<text x="1539.87" y="900.80" font-size="16.9" font-weight="bold" fill="#000" textLength="40.62" lengthAdjust="spacingAndGlyphs">2022</text>
<text x="1571.39" y="881.30" font-size="16.9" fill="#000" textLength="19.76" lengthAdjust="spacingAndGlyphs">Q2</text>
<text x="1592.10" y="881.30" font-size="16.9" fill="#000" textLength="19.64" lengthAdjust="spacingAndGlyphs">Q3</text>
<text x="1612.80" y="881.30" font-size="16.9" fill="#000" textLength="19.41" lengthAdjust="spacingAndGlyphs">Q4</text>
<text x="1632.72" y="881.30" font-size="16.9" font-weight="bold" fill="#000" textLength="20.97" lengthAdjust="spacingAndGlyphs">Q1</text>
<text x="1622.67" y="900.80" font-size="16.9" font-weight="bold" fill="#000" textLength="40.62" lengthAdjust="spacingAndGlyphs">2023</text>
<text x="1654.19" y="881.30" font-size="16.9" fill="#000" textLength="19.76" lengthAdjust="spacingAndGlyphs">Q2</text>
<text x="1674.90" y="881.30" font-size="16.9" fill="#000" textLength="19.64" lengthAdjust="spacingAndGlyphs">Q3</text>
<text x="1695.60" y="881.30" font-size="16.9" fill="#000" textLength="19.41" lengthAdjust="spacingAndGlyphs">Q4</text>
<text x="1715.52" y="881.30" font-size="16.9" font-weight="bold" fill="#000" textLength="20.97" lengthAdjust="spacingAndGlyphs">Q1</text>
<text x="1705.49" y="900.80" font-size="16.9" font-weight="bold" fill="#000" textLength="39.93" lengthAdjust="spacingAndGlyphs">2024</text>
<text x="1736.99" y="881.30" font-size="16.9" fill="#000" textLength="19.76" lengthAdjust="spacingAndGlyphs">Q2</text>
<text x="1757.70" y="881.30" font-size="16.9" fill="#000" textLength="19.64" lengthAdjust="spacingAndGlyphs">Q3</text>
<text x="1778.40" y="881.30" font-size="16.9" fill="#000" textLength="19.41" lengthAdjust="spacingAndGlyphs">Q4</text>
<rect x="1261" y="913.3" width="25.6" height="18.5" fill="#6495ED"/>
<text x="1291.26" y="927.50" font-size="17.1" fill="#000" textLength="59.31" lengthAdjust="spacingAndGlyphs">Do 30%</text>
<rect x="1261" y="940.1" width="25.6" height="18.5" fill="#34D366"/>
<text x="1291.98" y="954.20" font-size="17.1" fill="#000" textLength="58.58" lengthAdjust="spacingAndGlyphs">30-50%</text>
<rect x="1362" y="913.3" width="25.6" height="18.5" fill="#F4B02E"/>
<text x="1392.85" y="927.50" font-size="17.1" fill="#000" textLength="58.71" lengthAdjust="spacingAndGlyphs">50-80%</text>
<rect x="1362" y="940.1" width="25.6" height="18.5" fill="#E81111"/>
<text x="1392.22" y="954.20" font-size="17.1" fill="#000" textLength="103.31" lengthAdjust="spacingAndGlyphs">Powyżej 80%</text>
<text x="109.47" y="1013.40" font-size="20.7" font-weight="bold" fill="#000" stroke="#000" stroke-width="0.3" stroke-linejoin="round" textLength="77.17" lengthAdjust="spacingAndGlyphs">Źródło:</text>
<text y="1013.40" font-size="20.7" font-style="italic" fill="#000"><tspan x="191.55" textLength="78.24" lengthAdjust="spacingAndGlyphs">AMRON,</tspan> <tspan x="274.46" textLength="71.19" lengthAdjust="spacingAndGlyphs">analiza</tspan> <tspan x="351.40" textLength="47.91" lengthAdjust="spacingAndGlyphs">FLTR</tspan></text>
<text x="110.13" y="1049.50" font-size="22.4" font-weight="bold" fill="#000" textLength="119.93" lengthAdjust="spacingAndGlyphs">www.fltr.pl</text>
<rect x="109.2" y="1052.3" width="119.5" height="2.3" fill="#000"/>
<text x="955.17" y="1058.70" font-size="16.6" fill="#000" textLength="9.23" lengthAdjust="spacingAndGlyphs">2</text>
</svg>
</body></html>
